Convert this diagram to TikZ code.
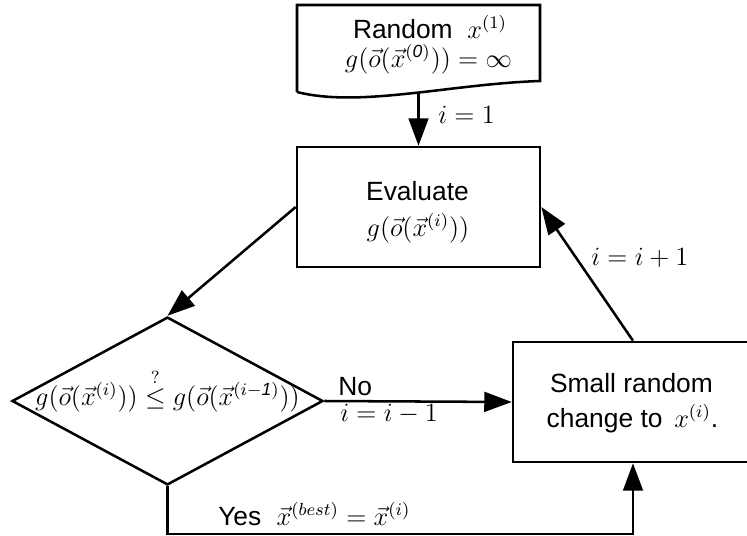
\documentclass[tikz,border=0pt]{standalone}
\usepackage{fontspec}
\setmainfont{Liberation Sans}
\usetikzlibrary{shapes.geometric,arrows.meta}
\begin{document}
\begin{tikzpicture}[x=0.455pt,y=-0.455pt,
  line width=1.15pt,
  box/.style={draw, rectangle, inner sep=0pt},
  arr/.style={-{Triangle[length=12.5pt,width=9pt]}},
  txt/.style={inner sep=0pt, anchor=base},
  lbl/.style={inner sep=0pt, anchor=base west},
  every node/.style={font=\fontsize{12}{14.4}\selectfont}]
\useasboundingbox (0,0) rectangle (747,536);
% document shape
\draw (297,92) -- (297,5) -- (540,5) -- (540,81) .. controls (450,84) and (360,108) .. (297,92);
\node[txt] (start) at (430,38) {Random\ \ $x^{(1)}$};
\node[txt] (start2) at (428.5,67) {$g(\vec{o}(\vec{x}^{(\mathit{0})}))=\infty$};
\coordinate (startbot) at (418.5,93);
% evaluate
\node[box, minimum width=110.6pt, minimum height=54.6pt] (eval) at (418.5,207) {};
\node[txt] (evaltxt) at (417.5,200) {Evaluate};
\node[txt] (evaltxt2) at (418,236) {$g(\vec{o}(\vec{x}^{(i)}))$};
% decision
\node[diamond, draw, minimum width=141.5pt, minimum height=76.4pt, inner sep=0pt] (dia) at (167.5,401) {};
\node[txt] (diatext) at (167.5,405) {$g(\vec{o}(\vec{x}^{(i)}))\stackrel{?}{\le} g(\vec{o}(\vec{x}^{(i-\mathit{1})}))$};
% change box
\node[box, minimum width=109.2pt, minimum height=54.6pt] (chg) at (633,402) {};
\node[txt] (chgtxt) at (631.5,392) {Small random};
\node[txt] (chgtxt2) at (632.5,427) {change to $\,x^{(i)}$.};
% connectors
\draw[arr] (startbot) -- (eval.north);
\node[lbl] (l1) at (437,123) {$i=1$};
\draw[arr] (eval.west) -- (dia.north);
\draw[arr] (dia.east) -- (chg.west);
\node[lbl] (lno) at (337,395) {No};
\node[lbl] (lnoeq) at (339,421) {$i=i-1$};
\draw[arr] (dia.south) -- ++(0,48) -| (chg.south);
\node[lbl] (lyes) at (217,525) {Yes\hspace{7pt}$\vec{x}^{(best)}=\vec{x}^{(i)}$};
\draw[arr] (chg.north) -- (eval.east);
\node[lbl] (lup) at (590,265) {$i=i+1$};
\end{tikzpicture}
\end{document}
